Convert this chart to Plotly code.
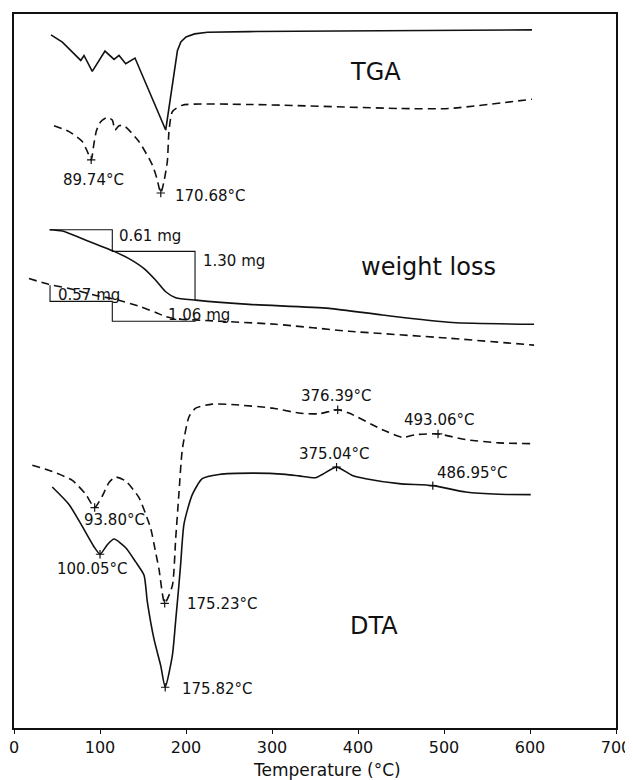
import plotly.graph_objects as go

# ---------------- data (temperature in °C, signal in arbitrary offset units; larger = lower on the chart)
tga_solid_T = [43.0, 56.2, 77.6, 81.4, 91.0, 105.8, 116.3, 122.1, 129.9, 140.7, 176.4, 187.0, 190.0, 194.0, 200.0, 210.0, 225.0, 273.3, 447.7, 602.3]
tga_solid_y = [35, 42.3, 60.7, 55.7, 71.7, 51.3, 59.7, 55.7, 64, 58.3, 130.7, 67, 51, 42, 37, 34, 32.3, 31.7, 31, 30]

tga_dash_T = [46.5, 64, 79.4, 85.3, 89.74, 93, 96, 100.8, 108.5, 114.3, 117.4, 122.1, 127.9, 145.3, 160.8, 166, 170.68, 174.4, 178.3, 180.2, 184.1, 195.7, 273.3, 447.7, 505.8, 602.3]
tga_dash_y = [126.3, 132.3, 142.3, 152.3, 160.7, 144, 131, 122.3, 118, 120.7, 130.7, 126.3, 126.3, 142.3, 165.7, 179, 194, 182.3, 162.3, 132.3, 112.3, 105.7, 105, 109, 109, 99.7]

wl_solid_T = [41.5, 56.2, 79.4, 116.3, 133.7, 151.2, 164.8, 176.4, 188, 211.3, 273.3, 366.3, 428.3, 509.7, 604.7]
wl_solid_y = [231, 232.3, 240, 252.7, 260, 270, 281.7, 293.3, 299.3, 301.7, 306, 310, 316.7, 324.3, 326]

wl_dash_T = [17.4, 40.7, 64, 95, 118.3, 145.3, 164.8, 176.4, 188, 222.9, 304.3, 389.5, 505.8, 604.7]
wl_dash_y = [280, 286, 290, 297, 301, 307.8, 314.2, 318.2, 320.6, 322.2, 326, 333, 340, 347]

dta_dash_T = [21.3, 44.5, 67.8, 83.4, 93.8, 102.7, 110.5, 118.3, 129.9, 145.3, 155, 159, 164.8, 168.6, 175.23, 184.1, 188, 191.9, 195.7, 203.5, 211.3, 230.6, 257.8, 300.3, 331.4, 354.7, 376.39, 389.5, 428.3, 451.5, 467.1, 493.06, 525.2, 564, 600.8]
dta_dash_y = [467.7, 474, 483, 497, 510.3, 498.7, 485, 479.7, 483.7, 500.3, 521.3, 531.3, 555.7, 572.3, 606.7, 589, 541.7, 494.7, 452, 419, 410.3, 406.3, 407, 410.3, 415.3, 416, 412, 415.3, 432, 439.7, 437, 436.3, 442, 445.3, 446]

dta_solid_T = [44.5, 64, 79.4, 93, 100.05, 108.5, 116.3, 129.9, 141.5, 151.2, 155, 162.8, 170.6, 175.82, 184.1, 188, 191.9, 193.8, 197.7, 207.3, 218.9, 238.4, 277.1, 315.9, 331.4, 350.8, 358.5, 375.04, 393.4, 409, 447.7, 486.95, 525.2, 564, 600.8]
dta_solid_y = [489.7, 507.3, 529.3, 549.7, 557.3, 547.7, 542, 550.7, 565, 578.3, 605, 642.7, 669.3, 691, 659.3, 624, 586.7, 567, 526.7, 497.3, 481.3, 477, 475.7, 477, 478.5, 480.3, 477, 469.7, 478, 481.3, 486.3, 488.3, 494.7, 497, 497.3]

# marked peak temperatures
peak_T = [89.74, 170.68, 93.80, 175.23, 376.39, 493.06, 100.05, 175.82, 375.04, 486.95]
peak_y = [160.7, 194, 510.3, 606.7, 412, 436.3, 557.3, 691, 469.7, 488.3]

# weight-loss step brackets
br_solid_T = [41.5, 114.3, 114.3, 210.5, 210.5]
br_solid_y = [231, 231, 252.7, 252.7, 301.7]
br_dash_T = [41.9, 41.9, 114.3, 114.3, 211.3]
br_dash_y = [286.7, 303, 303, 323, 323]

# text labels: (text, T, y, anchor, size)
labels = [
    ("TGA", 420.5, 72.5, "center", 24),
    ("weight loss", 481.4, 268, "center", 24),
    ("DTA", 418.6, 629, "center", 24),
    ("89.74°C", 93, 181, "center", 15),
    ("170.68°C", 184.9, 197, "left", 15),
    ("0.61 mg", 119.8, 237, "left", 15),
    ("1.30 mg", 217.1, 262, "left", 15),
    ("0.57 mg", 48.5, 296.5, "left", 15),
    ("1.06 mg", 176.4, 316.5, "left", 15),
    ("93.80°C", 116.3, 523, "center", 15),
    ("100.05°C", 91, 572, "center", 15),
    ("175.23°C", 198.5, 607, "left", 15),
    ("175.82°C", 192.7, 693, "left", 15),
    ("376.39°C", 374, 398, "center", 15),
    ("375.04°C", 372.5, 456, "center", 15),
    ("493.06°C", 494.5, 422, "center", 15),
    ("486.95°C", 489, 476, "left", 15),
]

x_ticks = [0, 100, 200, 300, 400, 500, 600, 700]
x_title = "Temperature (°C)"

FONT = "DejaVu Sans"
BLACK = "#111111"
DASH = "8px,5px"

fig = go.Figure()

def add_line(x, y, dash="solid", width=1.6, shape="spline"):
    fig.add_trace(go.Scatter(x=x, y=y, mode="lines",
                             line=dict(color=BLACK, width=width, dash=dash, shape=shape,
                                       smoothing=0.6 if shape == "spline" else None),
                             hoverinfo="skip", showlegend=False))

add_line(tga_solid_T, tga_solid_y, shape="linear")
add_line(tga_dash_T, tga_dash_y, dash=DASH)
add_line(wl_solid_T, wl_solid_y)
add_line(wl_dash_T, wl_dash_y, dash=DASH)
add_line(dta_dash_T, dta_dash_y, dash=DASH)
add_line(dta_solid_T, dta_solid_y)
add_line(br_solid_T, br_solid_y, width=1.1, shape="linear")
add_line(br_dash_T, br_dash_y, width=1.1, shape="linear")

fig.add_trace(go.Scatter(x=peak_T, y=peak_y, mode="markers",
                         marker=dict(symbol="cross-thin", size=6, line=dict(color=BLACK, width=1.2)),
                         hoverinfo="skip", showlegend=False))

for text, tx, ty, anchor, size in labels:
    fig.add_annotation(x=tx, y=ty, xref="x", yref="y", text=text, showarrow=False,
                       xanchor=anchor, yanchor="middle",
                       font=dict(family=FONT, size=size, color=BLACK))

# axis title placed just under the tick labels
fig.add_annotation(x=0.52, y=-0.0585, xref="paper", yref="paper", text=x_title, showarrow=False,
                   xanchor="center", yanchor="middle",
                   font=dict(family=FONT, size=17, color=BLACK))

# the page body adds an 8px offset, so the figure is sized to fill the rest of the window
fig.update_layout(
    width=625, height=772,
    margin=dict(l=6, r=17, t=6, b=52),
    paper_bgcolor="white", plot_bgcolor="white",
    font=dict(family=FONT, color=BLACK),
    xaxis=dict(range=[0, 700], tickvals=x_ticks, ticktext=[str(v) for v in x_ticks],
               ticks="outside", ticklen=4, tickwidth=1.2, tickcolor=BLACK,
               showline=True, linecolor=BLACK, linewidth=1.5, mirror=True,
               showgrid=False, zeroline=False, automargin=False,
               tickfont=dict(family=FONT, size=16, color=BLACK)),
    yaxis=dict(range=[732, 14], showticklabels=False, ticks="", automargin=False,
               showline=True, linecolor=BLACK, linewidth=1.5, mirror=True,
               showgrid=False, zeroline=False),
)

fig.write_html("out.html")
